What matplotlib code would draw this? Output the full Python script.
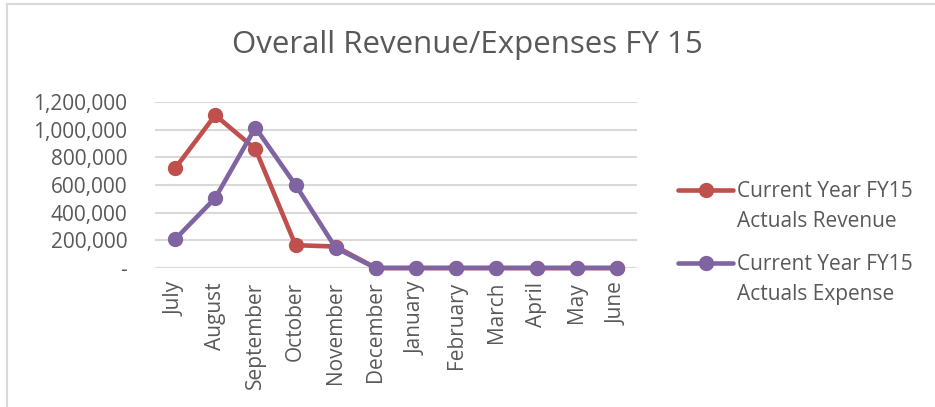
import matplotlib.pyplot as plt
from matplotlib.lines import Line2D
from matplotlib.ticker import FuncFormatter

plt.rcParams['font.family'] = ['Open Sans', 'DejaVu Sans']

months = ['July', 'August', 'September', 'October', 'November', 'December',
          'January', 'February', 'March', 'April', 'May', 'June']
revenue = [720000, 1105000, 860000, 165000, 155000, 0, 0, 0, 0, 0, 0, 0]
expense = [207000, 506000, 1015000, 600000, 145000, 0, 0, 0, 0, 0, 0, 0]
labels = [['Current Year FY15', 'Actuals Revenue'], ['Current Year FY15', 'Actuals Expense']]
colors = ['#C0504D', '#8064A2']
txt = '#595959'

fig = plt.figure(figsize=(9.35, 4.07), dpi=100)
ax = fig.add_axes([155 / 935, 1 - 268 / 407, 482 / 935, 166 / 407])

x = range(len(months))
for vals, c in zip([revenue, expense], colors):
    ax.plot(x, vals, color=c, lw=3.3, marker='o', ms=10, solid_capstyle='round', clip_on=False)

ax.set_xlim(-0.5, len(months) - 0.5)
ax.set_ylim(0, 1200000)
ax.set_yticks(range(0, 1200001, 200000))
ax.yaxis.set_major_formatter(FuncFormatter(lambda v, p: '-' if v == 0 else f'{int(v):,}'))
ax.set_xticks(list(x))
ax.set_xticklabels(months, rotation=90)
ax.grid(axis='y', color='#D9D9D9', lw=1.5)
ax.set_axisbelow(True)
for s in ax.spines.values():
    s.set_visible(False)
ax.tick_params(length=0, colors=txt, labelsize=15)
ax.tick_params(axis='y', pad=20)
ax.tick_params(axis='x', pad=10)

fig.text(0.5, 1 - 53 / 407, 'Overall Revenue/Expenses FY 15', ha='center', va='baseline',
         fontsize=22.5, color=txt)

# legend drawn by hand so the handle sits on the first text line
for i, (lab, c) in enumerate(zip(labels, colors)):
    yy = 1 - (190 + 73 * i) / 407
    fig.add_artist(Line2D([678 / 935, 733 / 935], [yy, yy], color=c, lw=3.3,
                          solid_capstyle='round', transform=fig.transFigure))
    fig.add_artist(Line2D([705.5 / 935], [yy], color=c, marker='o', ms=10,
                          transform=fig.transFigure))
    for j, line in enumerate(lab):
        fig.text(737 / 935, yy - (7 + 30 * j) / 407, line, ha='left', va='baseline',
                 fontsize=15, color=txt)

# chart border (left and top visible)
fig.add_artist(Line2D([6.5 / 935, 6.5 / 935], [0, 1 - 4 / 407], color='#D9D9D9', lw=1.5,
                      transform=fig.transFigure))
fig.add_artist(Line2D([6.5 / 935, 1], [1 - 4 / 407, 1 - 4 / 407], color='#D9D9D9', lw=1.5,
                      transform=fig.transFigure))

fig.savefig('out.png', dpi=100)
